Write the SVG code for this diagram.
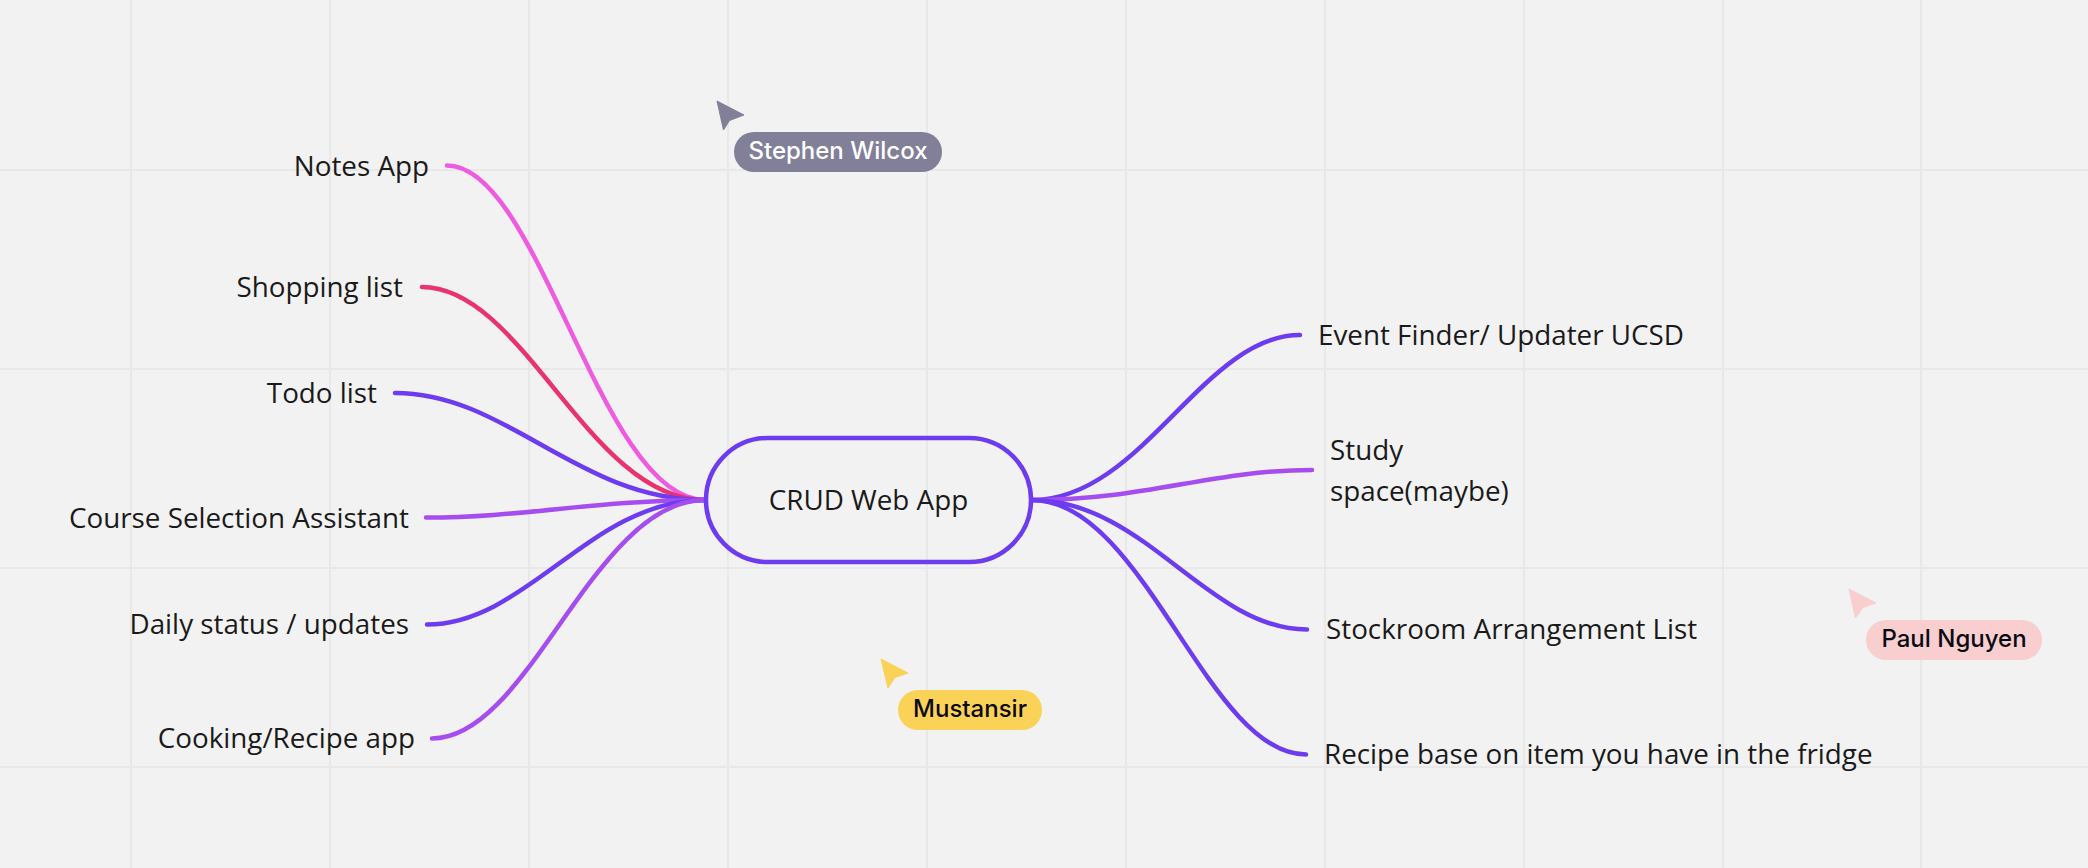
<svg xmlns="http://www.w3.org/2000/svg" width="2088" height="868" viewBox="0 0 2088 868">
<style>
.g{stroke:#e8e8e8;stroke-width:2;fill:none}
.c{fill:none;stroke-width:4.500;stroke-linecap:round}
.t{font-family:"Open Sans","Noto Sans",sans-serif;font-size:27.8px;fill:#1a1a1a}
.e{text-anchor:end}
.n{font-family:Inter,"Noto Sans",sans-serif;font-size:24px;font-weight:500}
</style>
<rect width="2088" height="868" fill="#f2f2f2"/>
<g id="grid">
<path class="g" d="M131 0V868M330 0V868M529 0V868M728 0V868M927 0V868M1126 0V868M1325 0V868M1524 0V868M1723 0V868M1921 0V868M0 170H2088M0 369H2088M0 568H2088M0 767H2088"/>
</g>
<g id="connectors">
<path class="c" stroke="#ee5be0" d="M447 165.500C540 165.500 600 500 705 500"/>
<path class="c" stroke="#ea3270" d="M422 287C524 287 589 500 705 500"/>
<path class="c" stroke="#6e3cf0" d="M395 393C507 393 578 500 705 500"/>
<path class="c" stroke="#a64df0" d="M426 517.500C526 517.500 591 500 705 500"/>
<path class="c" stroke="#6e3cf0" d="M427 624.500C527 624.500 591 500 705 500"/>
<path class="c" stroke="#a64df0" d="M432 738.500C530 738.500 593 500 705 500"/>
<path class="c" stroke="#6e3cf0" d="M1032 500C1142 500 1203 335 1300 335"/>
<path class="c" stroke="#a64df0" d="M1032 500C1147 500 1211 470 1312 470"/>
<path class="c" stroke="#6e3cf0" d="M1032 500C1145 500 1208 629.500 1307 629.500"/>
<path class="c" stroke="#6e3cf0" d="M1032 500C1144 500 1207 754.500 1306 754.500"/>
</g>
<g id="root"><rect x="706" y="438" width="325" height="124" rx="62" fill="none" stroke="#6e3cf0" stroke-width="4.500"/><text class="t" x="868.5" y="510" text-anchor="middle">CRUD Web App</text></g>
<g id="notes"><text class="t e" x="429" y="176">Notes App</text></g>
<g id="shopping"><text class="t e" x="403" y="297">Shopping list</text></g>
<g id="todo"><text class="t e" x="377" y="403">Todo list</text></g>
<g id="course"><text class="t e" x="409" y="528">Course Selection Assistant</text></g>
<g id="daily"><text class="t e" x="409" y="634">Daily status / updates</text></g>
<g id="cooking"><text class="t e" x="415" y="748">Cooking/Recipe app</text></g>
<g id="event"><text class="t" x="1318" y="345">Event Finder/ Updater UCSD</text></g>
<g id="study"><text class="t" x="1330" y="460">Study</text><text class="t" x="1330" y="501">space(maybe)</text></g>
<g id="stockroom"><text class="t" x="1326" y="639">Stockroom Arrangement List</text></g>
<g id="recipe"><text class="t" x="1324" y="764">Recipe base on item you have in the fridge</text></g>
<g id="cursor-stephen"><path fill="#827f99" stroke="#827f99" stroke-linejoin="round" d="M717 101L744 115L729.500 120.500L723.500 130Z"/><rect x="734" y="132" width="208" height="40" rx="20" fill="#827f99"/><text class="n" x="838" y="159" text-anchor="middle" fill="#fff">Stephen Wilcox</text></g>
<g id="cursor-mustansir"><path fill="#fad257" stroke="#fad257" stroke-linejoin="round" d="M881 659L908 673L895 677.500L888 688Z"/><rect x="898" y="690" width="144" height="40" rx="20" fill="#fad257"/><text class="n" x="970" y="717" text-anchor="middle" fill="#0a0a14">Mustansir</text></g>
<g id="cursor-paul"><path fill="#f8cece" stroke="#f8cece" stroke-linejoin="round" d="M1849 589L1876 603L1863 607.500L1855.500 618Z"/><rect x="1866" y="620" width="176" height="40" rx="20" fill="#f8cece"/><text class="n" x="1954" y="647" text-anchor="middle" fill="#0a0a14">Paul Nguyen</text></g>
</svg>
